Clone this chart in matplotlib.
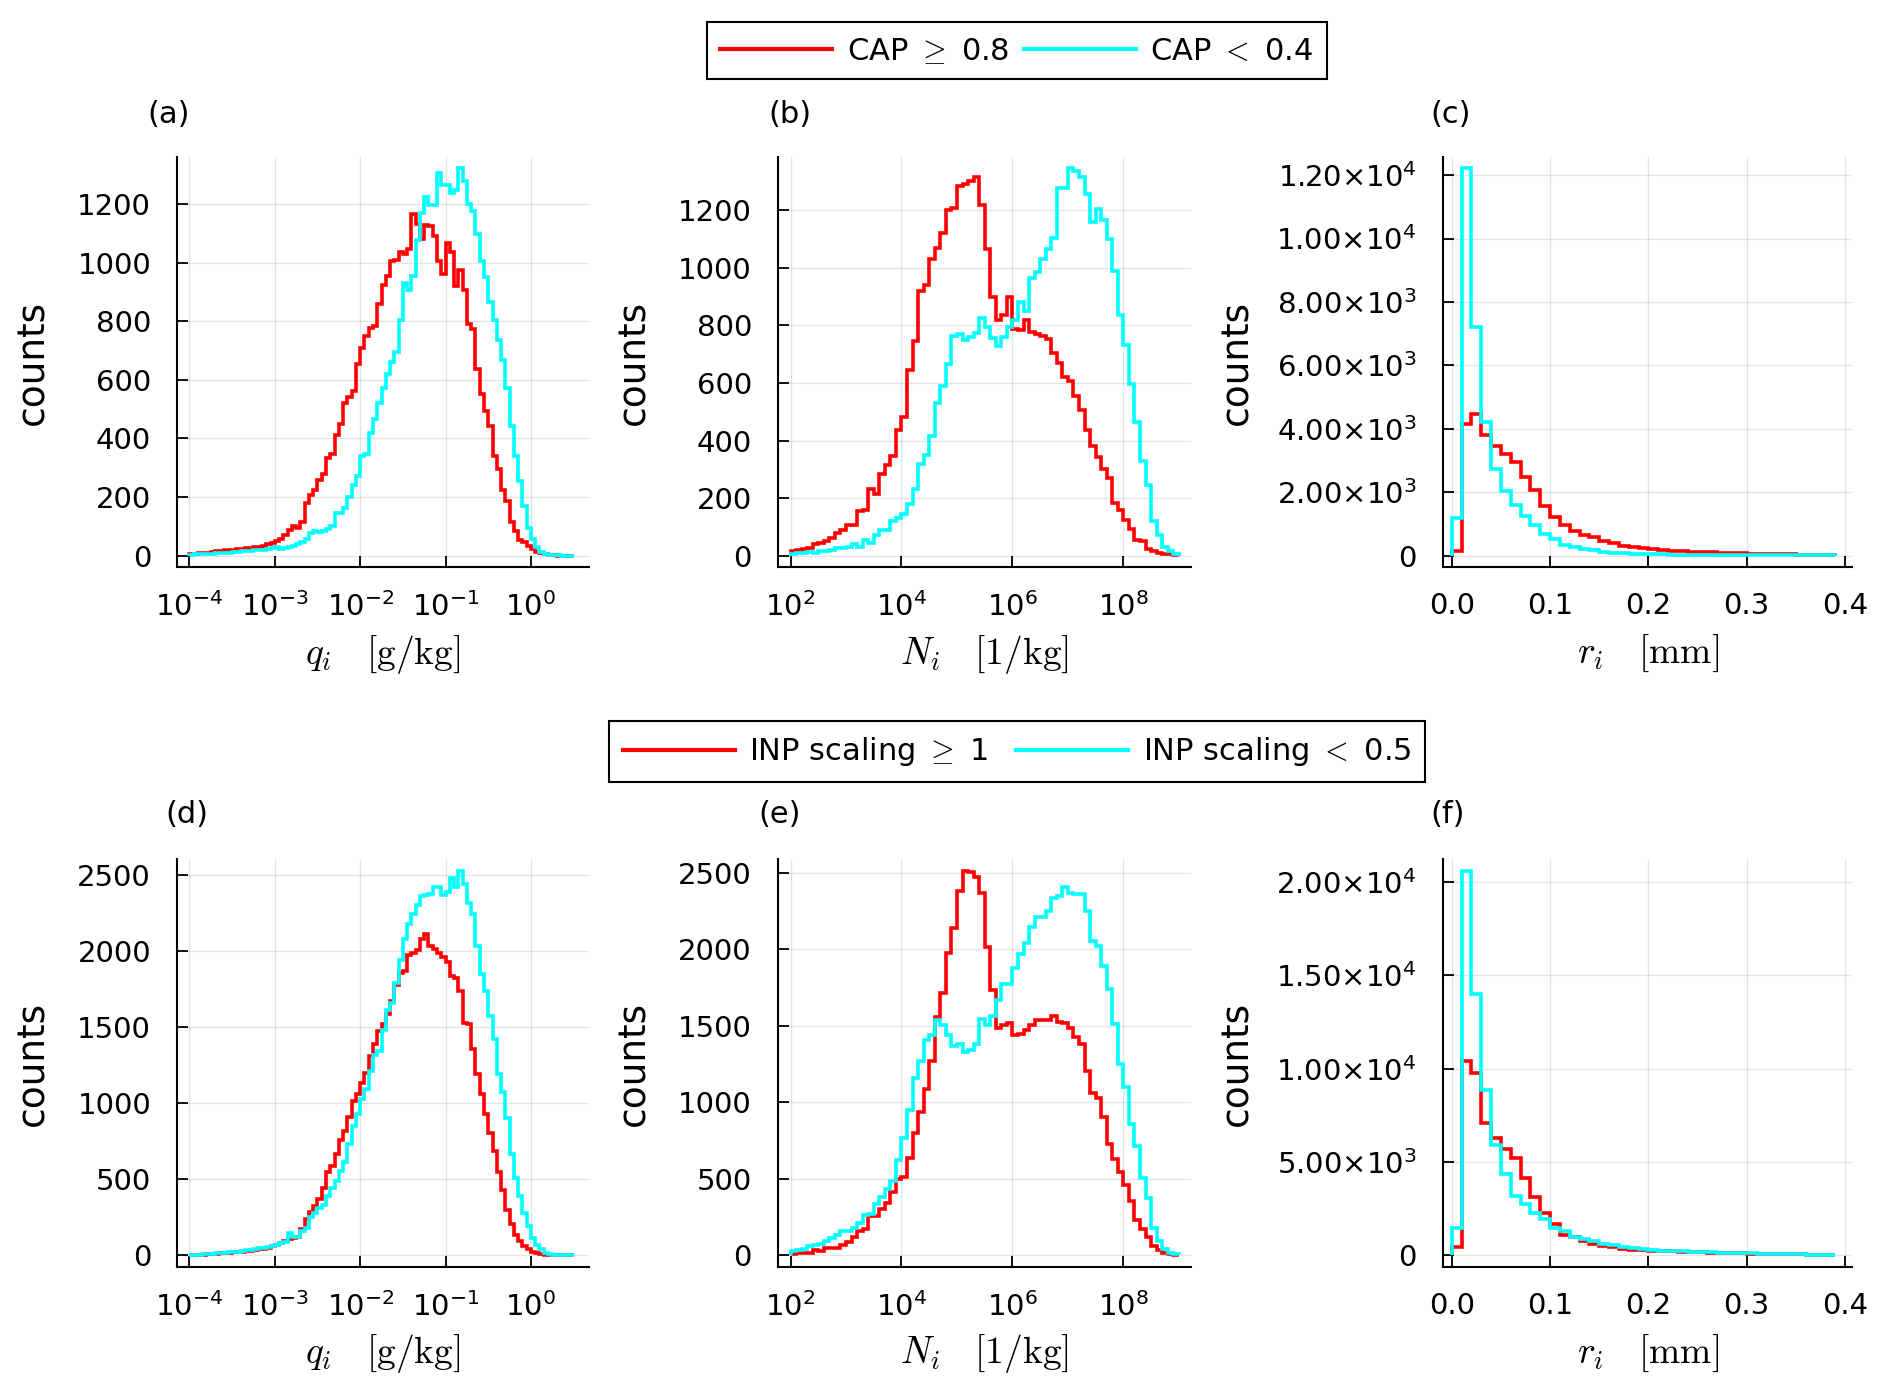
import numpy as np
import matplotlib
matplotlib.use("Agg")
import matplotlib.pyplot as plt
from matplotlib.ticker import FuncFormatter, NullLocator, LogFormatterSciNotation
from matplotlib.font_manager import FontProperties

plt.rcParams['font.family'] = ['DejaVu Sans']
plt.rcParams['mathtext.fontset'] = 'dejavusans'

# bin edges (log10 for q and N, linear for r)
q_edges = np.logspace(-4, 0.5, 91)
N_edges = np.logspace(2, 9, 71)
r_edges = np.linspace(0, 0.39, 40)

# top row: CAP >= 0.8 (red) and CAP < 0.4 (cyan)
q_cap_hi = [5, 6, 8, 8, 10, 12, 14, 15, 18, 20, 18, 22, 22, 25, 24, 28, 30, 32, 40, 42,
            48, 55, 70, 88, 100, 95, 113, 180, 205, 225, 258, 280, 333, 345, 412, 450, 520, 540, 560, 655,
            710, 750, 775, 785, 858, 925, 955, 1005, 1008, 1035, 1030, 1045, 1165, 1130, 1080, 1128, 1125, 1090, 1005, 962,
            1065, 1035, 920, 975, 905, 790, 772, 638, 553, 492, 443, 340, 296, 225, 187, 113, 83, 52, 46, 34,
            22, 12, 8, 4, 2, 1, 0, 0, 0, 0]
q_cap_lo = [3, 4, 5, 5, 6, 7, 8, 8, 10, 10, 12, 12, 14, 14, 16, 18, 18, 20, 22, 25,
            28, 24, 26, 30, 34, 40, 46, 58, 77, 83, 80, 83, 89, 100, 144, 146, 162, 199, 241, 272,
            339, 345, 418, 467, 522, 571, 620, 662, 693, 803, 931, 906, 955, 1077, 1169, 1224, 1196, 1196, 1305, 1265,
            1265, 1236, 1248, 1321, 1279, 1199, 1175, 1098, 1004, 949, 864, 803, 736, 669, 573, 443, 339, 254, 168, 95,
            58, 28, 12, 5, 3, 1, 1, 0, 0, 0]
N_cap_hi = [16, 20, 22, 25, 40, 45, 50, 62, 80, 90, 105, 105, 155, 160, 232, 215, 285, 315, 345, 435,
            482, 645, 745, 920, 940, 1030, 1068, 1120, 1202, 1210, 1286, 1292, 1302, 1317, 1220, 1066, 900, 818, 838, 900,
            788, 783, 818, 776, 772, 765, 752, 705, 668, 620, 606, 556, 505, 438, 382, 344, 300, 270, 184, 157,
            125, 92, 54, 50, 22, 16, 10, 6, 4, 2]
N_cap_lo = [5, 10, 10, 12, 10, 15, 15, 18, 25, 25, 30, 40, 30, 55, 45, 70, 90, 90, 120, 130,
            145, 180, 230, 320, 350, 415, 530, 590, 665, 765, 770, 750, 760, 775, 825, 795, 755, 730, 760, 795,
            820, 880, 850, 965, 985, 1030, 1065, 1105, 1278, 1278, 1346, 1336, 1316, 1258, 1160, 1206, 1166, 1100, 988, 838,
            732, 595, 466, 328, 247, 121, 71, 29, 17, 5]
r_cap_hi = [150, 4150, 4450, 3790, 3470, 3190, 2965, 2490, 2060, 1555, 1220, 970, 767, 654, 575, 462, 405, 316, 260, 225,
            200, 180, 158, 135, 124, 113, 100, 90, 80, 70, 62, 55, 48, 42, 36, 30, 25, 20, 15]
r_cap_lo = [1195, 12210, 7215, 4205, 2740, 2030, 1590, 1240, 958, 676, 519, 338, 260, 200, 170, 124, 90, 80, 56, 45,
            40, 35, 30, 28, 25, 22, 20, 18, 15, 13, 12, 10, 9, 8, 7, 6, 5, 4, 3]

# bottom row: INP scaling >= 1 (red) and INP scaling < 0.5 (cyan)
q_inp_hi = [3, 4, 5, 6, 8, 10, 12, 14, 16, 18, 20, 22, 25, 28, 30, 34, 40, 45, 52, 60,
            70, 84, 94, 108, 113, 124, 171, 241, 288, 324, 371, 441, 546, 586, 664, 762, 816, 910, 1015, 1062,
            1133, 1203, 1309, 1390, 1473, 1520, 1590, 1672, 1778, 1860, 1871, 1977, 1989, 2012, 2083, 2111, 2036, 2017, 1989, 1965,
            1930, 1836, 1825, 1742, 1531, 1520, 1355, 1191, 1062, 933, 804, 687, 546, 429, 300, 206, 136, 94, 61, 42,
            26, 14, 8, 4, 2, 1, 1, 0, 0, 0]
q_inp_lo = [4, 5, 6, 8, 10, 12, 14, 16, 18, 20, 24, 26, 30, 34, 38, 42, 48, 52, 56, 62,
            66, 80, 89, 148, 124, 124, 160, 183, 253, 277, 312, 335, 394, 441, 488, 558, 617, 734, 851, 933,
            1027, 1098, 1215, 1320, 1344, 1485, 1613, 1660, 1790, 1942, 2083, 2177, 2247, 2305, 2364, 2371, 2376, 2423, 2420, 2371,
            2388, 2480, 2420, 2530, 2446, 2317, 2247, 2036, 1853, 1742, 1578, 1426, 1191, 1074, 905, 664, 511, 394, 277, 195,
            113, 66, 42, 19, 8, 4, 2, 1, 0, 0]
N_inp_hi = [12, 14, 14, 19, 35, 30, 47, 47, 47, 70, 88, 123, 158, 170, 256, 256, 302, 344, 414, 500,
            512, 635, 798, 937, 1088, 1270, 1558, 1716, 1972, 2135, 2379, 2512, 2507, 2472, 2367, 2014, 1735, 1488, 1507, 1519,
            1437, 1449, 1472, 1507, 1535, 1535, 1537, 1565, 1526, 1519, 1488, 1426, 1379, 1205, 1060, 1030, 902, 728, 628, 542,
            460, 356, 233, 170, 123, 60, 35, 14, 7, 3]
N_inp_lo = [30, 35, 42, 60, 70, 77, 93, 112, 135, 158, 163, 181, 209, 263, 274, 333, 379, 437, 484, 623,
            767, 953, 1158, 1270, 1409, 1437, 1535, 1507, 1437, 1367, 1379, 1326, 1344, 1379, 1542, 1502, 1565, 1670, 1774, 1774,
            1879, 1967, 2037, 2147, 2209, 2209, 2251, 2333, 2349, 2409, 2367, 2363, 2363, 2251, 2053, 2019, 1891, 1740, 1512, 1247,
            1100, 856, 712, 507, 372, 181, 93, 42, 19, 7]
r_inp_hi = [477, 10410, 9780, 7110, 6290, 5680, 5200, 4155, 3107, 2250, 1678, 1105, 972, 762, 630, 496, 438, 343, 305, 267,
            248, 230, 215, 200, 185, 170, 155, 140, 128, 116, 105, 95, 85, 75, 65, 55, 45, 35, 25]
r_inp_lo = [1487, 20590, 13970, 8880, 5900, 4350, 3200, 2765, 2290, 1965, 1487, 1335, 1010, 877, 782, 630, 534, 438, 381, 324,
            286, 260, 240, 220, 200, 180, 165, 150, 135, 120, 110, 100, 90, 80, 70, 60, 50, 40, 30]

cap_labels = [r"CAP $\geq$ 0.8", r"CAP $<$ 0.4"]
# trailing spaces: GR gives both legend columns the same width
inp_labels = [r"INP scaling $\geq$ 1  ", r"INP scaling $<$ 0.5"]

xlab_q = r"$q_i\quad[\mathrm{g/kg}]$"
xlab_N = r"$N_i\quad[1/\mathrm{kg}]$"
xlab_r = r"$r_i\quad[\mathrm{mm}]$"

RED = (1.0, 0.0, 0.0)
CYAN = (0.0, 1.0, 1.0)


def sci(v, pos):
    if v == 0:
        return "0"
    e = int(np.floor(np.log10(abs(v)) + 1e-9))
    m = v / 10.0**e
    return "%.2f\u00d710$^{%d}$" % (m, e)


def painel(ax, edges, hi, lo, xlab, tipo, yticks, ylab_x):
    hi = np.array(hi)
    lo = np.array(lo)
    ax.stairs(hi, edges, color=RED, lw=2.6, baseline=0)
    ax.stairs(lo, edges, color=CYAN, lw=2.6, baseline=0)
    m = max(hi.max(), lo.max())
    ax.set_ylim(-0.03 * m, 1.03 * m)
    ax.set_yticks(yticks)
    if tipo == 'q':
        ax.set_xscale('log')
        ax.set_xlim(10**-4.14, 10**0.68)
        ax.set_xticks([1e-4, 1e-3, 1e-2, 1e-1, 1e0])
    elif tipo == 'N':
        ax.set_xscale('log')
        ax.set_xlim(10**1.78, 10**9.22)
        ax.set_xticks([1e2, 1e4, 1e6, 1e8])
    else:
        ax.set_xlim(-0.0086, 0.4073)
        ax.set_xticks([0.0, 0.1, 0.2, 0.3, 0.4])
        ax.xaxis.set_major_formatter(FuncFormatter(lambda v, p: "%.1f" % v))
        ax.yaxis.set_major_formatter(FuncFormatter(sci))
    if tipo != 'r':
        ax.xaxis.set_major_formatter(LogFormatterSciNotation())
    ax.xaxis.set_minor_locator(NullLocator())
    ax.yaxis.set_minor_locator(NullLocator())

    ax.spines['top'].set_visible(False)
    ax.spines['right'].set_visible(False)
    ax.spines['left'].set_linewidth(1.5)
    ax.spines['bottom'].set_linewidth(1.5)
    ax.grid(True, color='black', alpha=0.1, lw=1.0)
    ax.set_axisbelow(True)
    ax.tick_params(axis='both', direction='in', length=8, width=1.3, labelsize=21)
    ax.tick_params(axis='x', pad=18)
    ax.tick_params(axis='y', pad=19)

    ax.set_xlabel(xlab, fontsize=27, math_fontfamily='cm')
    ax.xaxis.set_label_coords(0.5, -0.16)
    ax.set_ylabel("counts", fontsize=27)
    ax.yaxis.set_label_coords(ylab_x, 0.5)


fig = plt.figure(figsize=(18.92, 13.98), dpi=100)

lefts = [0.0938, 0.4114, 0.7628]
widths = [0.2175, 0.2181, 0.2162]
ylabx = [-0.306, -0.305, -0.46]

axs_top = [fig.add_axes([lefts[k], 0.5943, widths[k], 0.2935]) for k in range(3)]
axs_bot = [fig.add_axes([lefts[k], 0.0937, widths[k], 0.2917]) for k in range(3)]

painel(axs_top[0], q_edges, q_cap_hi, q_cap_lo, xlab_q, 'q', range(0, 1201, 200), ylabx[0])
painel(axs_top[1], N_edges, N_cap_hi, N_cap_lo, xlab_N, 'N', range(0, 1201, 200), ylabx[1])
painel(axs_top[2], r_edges, r_cap_hi, r_cap_lo, xlab_r, 'r', range(0, 12001, 2000), ylabx[2])

painel(axs_bot[0], q_edges, q_inp_hi, q_inp_lo, xlab_q, 'q', range(0, 2501, 500), ylabx[0])
painel(axs_bot[1], N_edges, N_inp_hi, N_inp_lo, xlab_N, 'N', range(0, 2501, 500), ylabx[1])
painel(axs_bot[2], r_edges, r_inp_hi, r_inp_lo, xlab_r, 'r', range(0, 20001, 5000), ylabx[2])

# panel letters
letras = ['(a)', '(b)', '(c)', '(d)', '(e)', '(f)']
px = [0.0893, 0.4177, 0.7666, 0.0989, 0.412, 0.765]
py = [0.918, 0.918, 0.918, 0.4174, 0.4174, 0.4174]
for k in range(6):
    fig.text(px[k], py[k], letras[k], fontsize=22, ha='center', va='center')

legprop = FontProperties(family='DejaVu Sans', size=22, math_fontfamily='cm')
for labs, yy in [(cap_labels, 0.9637), (inp_labels, 0.4623)]:
    lines = [plt.Line2D([], [], color=RED, lw=3), plt.Line2D([], [], color=CYAN, lw=3)]
    leg = fig.legend(lines, labs, loc='center', bbox_to_anchor=(0.5375, yy), ncol=2,
                     frameon=True, fancybox=False, edgecolor='black', framealpha=1,
                     handlelength=3.66, handletextpad=0.47, columnspacing=0.51,
                     borderpad=0.45, prop=legprop)
    leg.get_frame().set_linewidth(1.5)

plt.savefig('out.png', dpi=100)
plt.close()
